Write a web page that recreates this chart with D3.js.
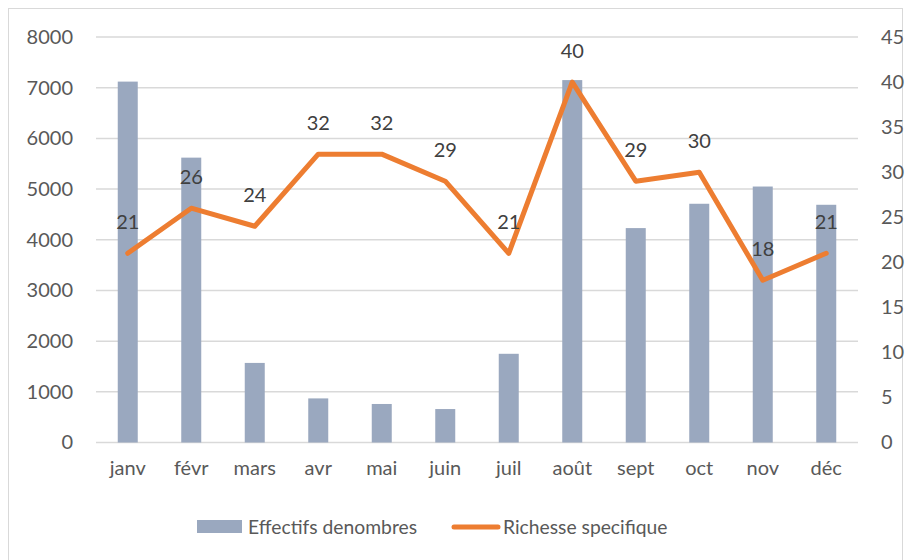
<!DOCTYPE html>
<html><head><meta charset="utf-8">
<script src="https://cdn.jsdelivr.net/npm/d3@7"></script>
<style>body{margin:0;background:#fff;} svg{display:block;}</style>
</head><body>
<svg id="chart" width="910" height="560"></svg>
<script>
const months = ["janv","févr","mars","avr","mai","juin","juil","août","sept","oct","nov","déc"];
const effectifs = [7120, 5620, 1570, 870, 760, 660, 1750, 7150, 4230, 4710, 5050, 4690];
const richesse = [21, 26, 24, 32, 32, 29, 21, 40, 29, 30, 18, 21];
const leftTicks = [0,1000,2000,3000,4000,5000,6000,7000,8000];
const rightTicks = [0,5,10,15,20,25,30,35,40,45];
const seriesNames = ["Effectifs denombres","Richesse specifique"];

const svg = d3.select("#chart");
const font = "Lato, 'Open Sans', sans-serif";
const fs = 20;
const textCol = "#595959";
const barCol = "#9AA8BF";
const lineCol = "#ED7D31";

svg.append("rect").attr("x",8.5).attr("y",8.5).attr("width",894).attr("height",560)
  .attr("fill","#fff").attr("stroke","#D9D9D9").attr("stroke-width",1);

const x = d3.scaleBand().domain(months).range([96,858]).paddingInner(0).paddingOuter(0);
const yL = d3.scaleLinear().domain([0,8000]).range([442.5,37]);
const yR = d3.scaleLinear().domain([0,45]).range([442.5,37]);

// gridlines
svg.append("g").selectAll("line").data(leftTicks).join("line")
  .attr("x1",96).attr("x2",858).attr("y1",d=>yL(d)).attr("y2",d=>yL(d))
  .attr("stroke","#D9D9D9").attr("stroke-width",1.5);

// left axis
const gL = svg.append("g").attr("transform","translate(73,0)")
  .call(d3.axisLeft(yL).tickValues(leftTicks).tickSize(0).tickPadding(0).tickFormat(d3.format("d")));
gL.select(".domain").remove();
gL.selectAll("text").attr("font-family",font).attr("font-size",fs).attr("fill",textCol);

// right axis
const gR = svg.append("g").attr("transform","translate(881,0)")
  .call(d3.axisRight(yR).tickValues(rightTicks).tickSize(0).tickPadding(0));
gR.select(".domain").remove();
gR.selectAll("text").attr("font-family",font).attr("font-size",fs).attr("fill",textCol);

// x axis labels
const gX = svg.append("g").attr("transform","translate(0,461)")
  .call(d3.axisBottom(x).tickSize(0).tickPadding(0));
gX.select(".domain").remove();
gX.selectAll("text").attr("font-family",font).attr("font-size",fs).attr("fill",textCol);

// bars
const bw = 20;
svg.append("g").selectAll("rect").data(effectifs).join("rect")
  .attr("x",(d,i)=>x(months[i])+x.bandwidth()/2-bw/2)
  .attr("width",bw)
  .attr("y",d=>yL(d)).attr("height",d=>yL(0)-yL(d))
  .attr("fill",barCol);

// line
const line = d3.line().x((d,i)=>x(months[i])+x.bandwidth()/2).y(d=>yR(d));
svg.append("path").datum(richesse).attr("d",line)
  .attr("fill","none").attr("stroke",lineCol).attr("stroke-width",5)
  .attr("stroke-linejoin","round").attr("stroke-linecap","round");

// labels
svg.append("g").selectAll("text").data(richesse).join("text")
  .attr("x",(d,i)=>x(months[i])+x.bandwidth()/2)
  .attr("y",d=>yR(d)-24)
  .attr("text-anchor","middle")
  .attr("font-family",font).attr("font-size",fs).attr("fill","#404040")
  .text(d=>d);

// legend
const lg = svg.append("g");
lg.append("rect").attr("x",197).attr("y",520).attr("width",45).attr("height",13).attr("fill",barCol);
lg.append("text").attr("x",248).attr("y",534).attr("font-family",font).attr("font-size",19.3)
  .attr("fill",textCol).text(seriesNames[0]);
lg.append("line").attr("x1",454).attr("x2",498).attr("y1",527).attr("y2",527)
  .attr("stroke",lineCol).attr("stroke-width",5).attr("stroke-linecap","round");
lg.append("text").attr("x",503).attr("y",534).attr("font-family",font).attr("font-size",19.3)
  .attr("fill",textCol).text(seriesNames[1]);
</script>
</body></html>
